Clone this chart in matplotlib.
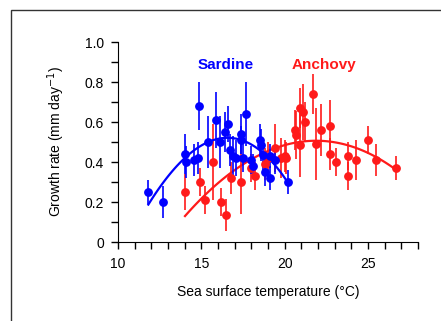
import matplotlib
matplotlib.use('Agg')
import matplotlib.pyplot as plt
import numpy as np
from matplotlib.patches import Rectangle
from matplotlib.ticker import MultipleLocator

plt.rcParams['font.family'] = ['Liberation Sans', 'DejaVu Sans']

# sardine: temperature, growth rate, error
sar_t = [11.8, 12.7, 14.0, 14.1, 14.55, 14.8, 14.85, 15.4, 15.9, 16.1, 16.4, 16.6,
         16.7, 16.9, 17.1, 17.4, 17.4, 17.5, 17.7, 18.0, 18.1, 18.55, 18.6, 18.7,
         18.8, 19.1, 19.1, 19.4, 20.2]
sar_g = [0.25, 0.20, 0.44, 0.40, 0.41, 0.42, 0.68, 0.50, 0.61, 0.50, 0.55, 0.59,
         0.46, 0.43, 0.42, 0.54, 0.51, 0.42, 0.64, 0.41, 0.38, 0.51, 0.485, 0.435,
         0.35, 0.43, 0.32, 0.41, 0.30]
sar_e = [0.06, 0.08, 0.10, 0.08, 0.08, 0.08, 0.12, 0.13, 0.14, 0.13, 0.10, 0.09,
         0.08, 0.10, 0.09, 0.10, 0.07, 0.07, 0.16, 0.07, 0.06, 0.08, 0.08, 0.08,
         0.07, 0.06, 0.06, 0.07, 0.06]

# anchovy
anc_t = [14.0, 14.9, 15.2, 15.7, 16.2, 16.5, 16.8, 17.4, 18.0, 18.2, 18.8, 19.0,
         19.4, 19.8, 20.0, 20.1, 20.6, 20.7, 20.9, 20.9, 21.1, 21.2, 21.7, 21.9,
         22.2, 22.7, 22.7, 23.1, 23.8, 23.8, 24.3, 25.0, 25.5, 26.7]
anc_g = [0.25, 0.30, 0.21, 0.40, 0.20, 0.135, 0.32, 0.30, 0.37, 0.33, 0.39, 0.42,
         0.47, 0.42, 0.43, 0.42, 0.56, 0.535, 0.67, 0.485, 0.65, 0.60, 0.74, 0.49,
         0.56, 0.58, 0.44, 0.40, 0.43, 0.33, 0.41, 0.51, 0.41, 0.37]
anc_e = [0.09, 0.07, 0.07, 0.19, 0.07, 0.08, 0.08, 0.16, 0.07, 0.07, 0.08, 0.08,
         0.12, 0.10, 0.08, 0.08, 0.10, 0.12, 0.10, 0.16, 0.14, 0.10, 0.10, 0.18,
         0.13, 0.13, 0.08, 0.07, 0.07, 0.07, 0.10, 0.07, 0.08, 0.06]

# points
sar_fit_t = [11.82, 12.52, 13.32, 14.02, 14.92, 15.92, 16.92, 17.92, 18.92, 19.72, 20.22]
sar_fit_g = [0.19, 0.268, 0.36, 0.43, 0.477, 0.51, 0.518, 0.49, 0.435, 0.35, 0.293]
anc_fit_t = [14.02, 14.92, 15.92, 16.92, 17.92, 18.92, 19.92, 20.92, 21.92, 22.92,
             23.92, 24.92, 25.92, 26.68]
anc_fit_g = [0.135, 0.21, 0.28, 0.35, 0.41, 0.46, 0.485, 0.50, 0.51, 0.50,
             0.477, 0.443, 0.40, 0.368]

blue = '#0000ff'
red = '#ff1a1a'

fig = plt.figure(figsize=(4.41, 3.21), dpi=100)
ax = fig.add_axes([118 / 441, 1 - 242 / 321, 300 / 441, 200 / 321])

for ft, fg, t, g, e, c in [(anc_fit_t, anc_fit_g, anc_t, anc_g, anc_e, red),
                           (sar_fit_t, sar_fit_g, sar_t, sar_g, sar_e, blue)]:
    p = np.polyfit(ft, fg, 3)
    xs = np.linspace(ft[0], ft[-1], 100)
    ax.plot(xs, np.polyval(p, xs), color=c, lw=1.6)
    ax.errorbar(t, g, yerr=e, fmt='o', color=c, ms=5.3, elinewidth=1.2, capsize=0)

# labels placed in figure pixels (measured from top)
fig.text(226 / 441, 1 - 65 / 321, 'Sardine', color=blue, fontsize=11,
         fontweight='bold', ha='center', va='center')
fig.text(324 / 441, 1 - 65 / 321, 'Anchovy', color=red, fontsize=11,
         fontweight='bold', ha='center', va='center')

ax.set_xlim(10, 28)
ax.set_ylim(0, 1.0)
ax.xaxis.set_minor_locator(MultipleLocator(1))
ax.yaxis.set_minor_locator(MultipleLocator(0.1))
ax.set_xticks([10, 15, 20, 25])
ax.set_yticks([0, 0.2, 0.4, 0.6, 0.8, 1.0])
ax.set_yticklabels(['0', '0.2', '0.4', '0.6', '0.8', '1.0'])
ax.tick_params(which='both', direction='out', length=5, width=1, labelsize=10)
ax.tick_params(axis='x', pad=6)
ax.tick_params(axis='y', pad=5)
ax.spines['top'].set_visible(False)
ax.spines['right'].set_visible(False)
ax.set_xlabel('Sea surface temperature (°C)', fontsize=10, labelpad=10)
ax.set_ylabel('Growth rate (mm day$^{-1}$)', fontsize=10, labelpad=13)

fig.patches.append(Rectangle((11 / 441, -0.2), 1.5, 1.2 - 10 / 321,
                             transform=fig.transFigure, fill=False,
                             edgecolor='#333333', lw=1))

fig.savefig('out.png', dpi=100)
